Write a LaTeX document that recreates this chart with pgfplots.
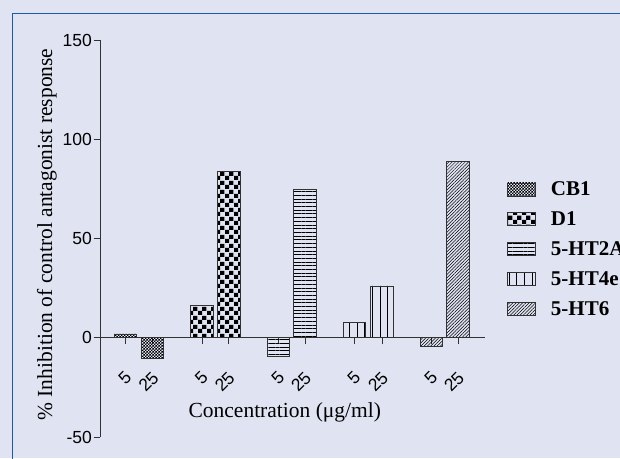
\documentclass[border=0pt]{standalone}
\usepackage{pgfplots}
\pgfplotsset{compat=1.18}
\usepackage{fontspec}
\setmainfont{Liberation Serif}
\setsansfont{Liberation Sans}
\usetikzlibrary{patterns,patterns.meta}
\definecolor{bg}{RGB}{224,228,242}
\definecolor{frameblue}{RGB}{30,90,170}
\definecolor{axisgray}{RGB}{50,50,50}

\pgfdeclarepattern{
  name=finecheck, type=uncolored,
  bottom left={\pgfpointorigin}, top right={\pgfpoint{3.4pt}{3.4pt}},
  tile size={\pgfpoint{3.4pt}{3.4pt}},
  code={
    \pgfpathrectangle{\pgfpointorigin}{\pgfpoint{1.7pt}{1.7pt}}
    \pgfpathrectangle{\pgfpoint{1.7pt}{1.7pt}}{\pgfpoint{1.7pt}{1.7pt}}
    \pgfusepath{fill}
  }
}
\pgfdeclarepattern{
  name=bigcheck, type=uncolored,
  bottom left={\pgfpointorigin}, top right={\pgfpoint{9pt}{9pt}},
  tile size={\pgfpoint{9pt}{9pt}},
  code={
    \pgfpathrectangle{\pgfpointorigin}{\pgfpoint{4.5pt}{4.5pt}}
    \pgfpathrectangle{\pgfpoint{4.5pt}{4.5pt}}{\pgfpoint{4.5pt}{4.5pt}}
    \pgfusepath{fill}
  }
}

\begin{document}
\begin{tikzpicture}[x=1pt,y=1pt]
\fill[bg] (0,0) rectangle (620,458);
\draw[frameblue, line width=1.6pt] (12.5,-20) -- (12.5,444.5) -- (660,444.5);
\begin{axis}[
  at={(100pt,21pt)}, anchor=south west,
  scale only axis, width=385pt, height=397pt,
  xmin=100, xmax=485, ymin=-50, ymax=150,
  clip=false,
  axis x line*=middle, axis y line*=left,
  axis line style={axisgray, line width=1pt},
  tick style={axisgray, line width=0.9pt},
  major tick length=6.5pt,
  xtick align=outside, ytick align=outside,
  ytick={-50,0,50,100,150},
  yticklabels={-50,0,50,100,150},
  yticklabel style={font=\sffamily\fontsize{17.5}{17.5}\selectfont, inner sep=1.5pt},
  xtick={125.5,152.5,202,228.7,278.5,305,354.5,382,431.5,458},
  xticklabels={5,25,5,25,5,25,5,25,5,25},
  xticklabel style={font=\sffamily\fontsize{17.5}{17.5}\selectfont, inner sep=0pt, xshift=-1.5pt, rotate=45, anchor=north east},
  xticklabel shift=26pt,
  xlabel={Concentration (μg/ml)},
  xlabel style={at={(axis description cs:0.48,0.063)}, anchor=center, font=\fontsize{21.5}{21.5}\selectfont},
  ylabel={\% Inhibition of control antagonist response},
  ylabel style={at={(axis description cs:-0.1377,0.51)}, anchor=center, font=\fontsize{21.5}{21.5}\selectfont},
  every axis plot/.append style={ybar, bar width=22.7, bar shift=0pt, draw=axisgray, line width=0.8pt},
  legend image code/.code={\draw[#1] (0pt,-6.5pt) rectangle (28pt,6.5pt); \path (43pt,0pt);},
  legend cell align=left,
  legend style={at={(axis description cs:1.057,0.473)}, anchor=west, draw=none, fill=none,
    font=\bfseries\fontsize{21}{21}\selectfont, inner sep=0pt, row sep=14.5pt,
    nodes={inner sep=0pt}},
]
\addplot[pattern=finecheck] coordinates {(125.5,1.9) (152.5,-10.5)};
\addlegendentry{CB1}
\addplot[pattern=bigcheck] coordinates {(202,16.3) (228.7,84)};
\addlegendentry{D1}
\addplot[pattern={Lines[angle=0, distance=3.7pt, line width=0.6pt]}] coordinates {(278.5,-9.5) (305,74.8)};
\addlegendentry{5-HT2A}
\addplot[pattern={Lines[angle=90, distance=7.6pt, line width=0.7pt]}] coordinates {(354.5,7.8) (382,26.1)};
\addlegendentry{5-HT4e}
\addplot[pattern={Lines[angle=45, distance=2.3pt, line width=0.5pt]}] coordinates {(431.5,-4.5) (458,88.7)};
\addlegendentry{5-HT6}
\end{axis}
\pgfresetboundingbox
\useasboundingbox (0,0) rectangle (620,458);
\end{tikzpicture}
\end{document}
